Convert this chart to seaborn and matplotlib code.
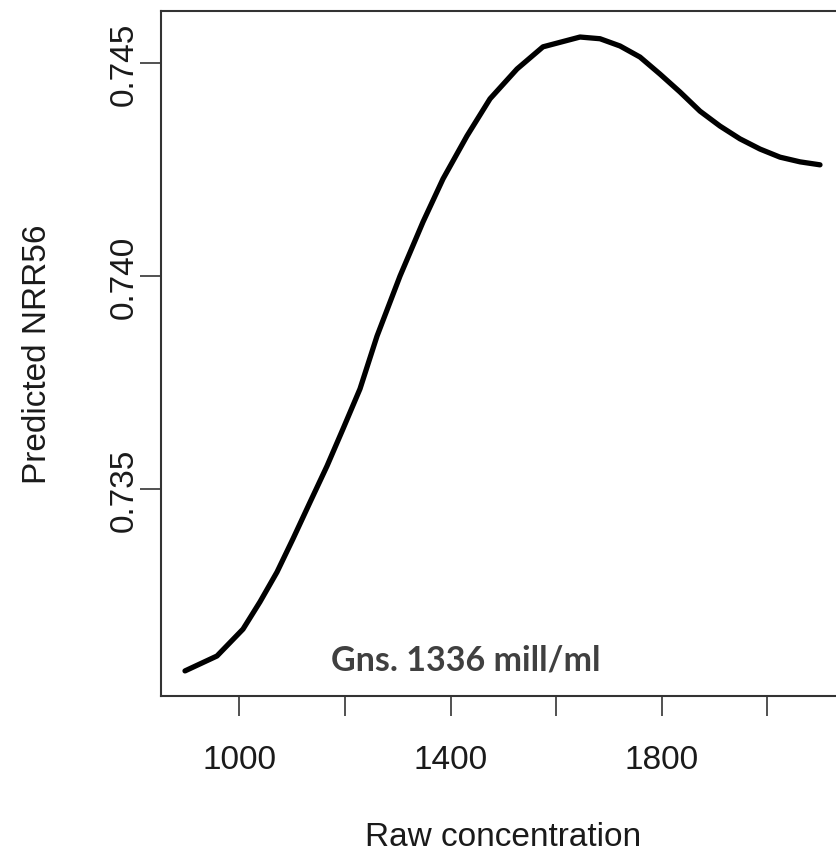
import numpy as np
import pandas as pd
import matplotlib
matplotlib.use("Agg")
import matplotlib.pyplot as plt
import seaborn as sns

# curve
conc = [896.7, 957.3, 1006.6, 1038.8, 1071.1, 1101.4, 1133.7, 1165.9, 1196.2,
        1228.4, 1260.7, 1304.3, 1347.9, 1385.8, 1431.3, 1474.9, 1526.1, 1575.3,
        1645.5, 1683.4, 1721.3, 1759.2, 1797.1, 1835.0, 1872.9, 1910.8, 1948.7,
        1986.7, 2024.6, 2062.5, 2100.4]
nrr56 = [0.73073, 0.73108, 0.73171, 0.73235, 0.73305, 0.73383, 0.73469, 0.73554,
         0.73641, 0.73735, 0.73859, 0.74000, 0.74127, 0.74228, 0.74329, 0.74416,
         0.74486, 0.74538, 0.74561, 0.74557, 0.74540, 0.74514, 0.74474, 0.74432,
         0.74387, 0.74352, 0.74322, 0.74298, 0.74279, 0.74268, 0.74261]

x_ticks = [1000, 1200, 1400, 1600, 1800, 2000]
x_labels = ['1000', '', '1400', '', '1800', '']
y_ticks = [0.735, 0.740, 0.745]
y_labels = ['0.735', '0.740', '0.745']
note = 'Gns. 1336 mill/ml'

df = pd.DataFrame({'conc': conc, 'nrr56': nrr56})

sns.set_style('white')
plt.rcParams['font.family'] = ['Liberation Sans', 'DejaVu Sans']

fig = plt.figure(figsize=(8.37, 8.54), dpi=100)
ax = fig.add_axes([161/837, 157/854, 685/837, 685/854])

sns.lineplot(data=df, x='conc', y='nrr56', ax=ax, color='black', lw=3.8)

ax.set_xlim(851.2, 2149.7)
ax.set_ylim(0.730141, 0.746221)

ax.set_xticks(x_ticks)
ax.set_xticklabels(x_labels, fontsize=24, color='#1a1a1a')
ax.set_yticks(y_ticks)
ax.set_yticklabels(y_labels, fontsize=24, color='#1a1a1a', rotation=90, va='center')
ax.tick_params(axis='x', bottom=True, length=14.5, width=1.2, color='#333333',
               pad=20, direction='out')
ax.tick_params(axis='y', left=True, length=15, width=1.2, color='#333333',
               pad=0, direction='out')

for s in ax.spines.values():
    s.set_color('#333333')
    s.set_linewidth(1.5)

ax.set_xlabel('Raw concentration', fontsize=24, color='#1a1a1a', va='center')
ax.xaxis.set_label_coords(0.5, -0.2044)
ax.set_ylabel('Predicted NRR56', fontsize=24, color='#1a1a1a', va='center')
ax.yaxis.set_label_coords(-0.18, 0.5)

ax.text(1173.5, 0.73077, note, fontsize=24.5, fontweight='bold', color='#404040',
        family=['Lato', 'DejaVu Sans'], ha='left', va='baseline')

fig.savefig('out.png', dpi=100)
